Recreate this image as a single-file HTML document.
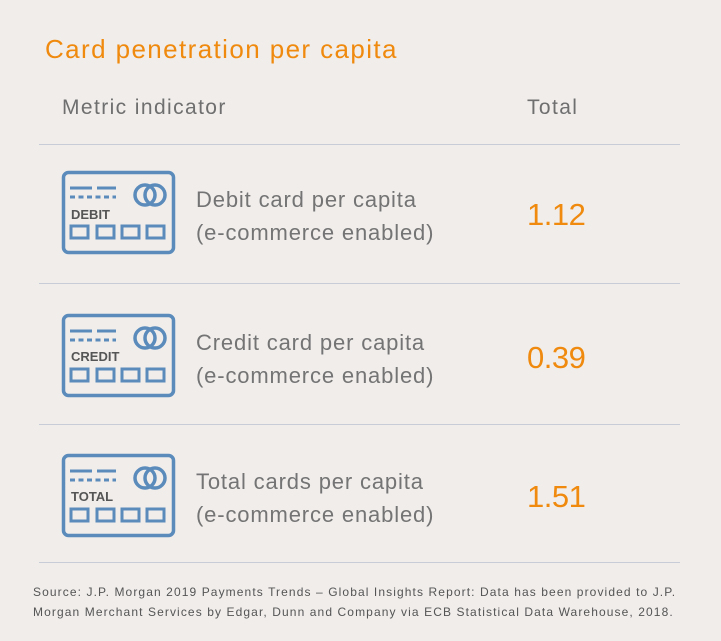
<!DOCTYPE html><html><head><style>
body{margin:0;background:#f0edeb;width:721px;height:641px;position:relative;overflow:hidden;font-family:"Liberation Sans",sans-serif}
.a{position:absolute;white-space:nowrap}
.t{color:#ef8a0e;font-size:26px;left:45px;top:34px;letter-spacing:1.4px}
.h{color:#6f6f6f;font-size:21px;top:96px;letter-spacing:1.4px}
.l{position:absolute;left:39px;width:641px;height:1px;background:#c7ccd6}
.d{color:#747474;font-size:22px;left:196px;line-height:33px;letter-spacing:0.85px}
.v{color:#ef8a0e;font-size:31px;left:527px;letter-spacing:-0.5px}
.f{color:#555;font-size:12px;left:33px;line-height:20px;top:582px;letter-spacing:1.1px}
</style></head><body>
<div class="a t">Card penetration per capita</div>
<div class="a h" style="left:62px">Metric indicator</div>
<div class="a h" style="left:527px">Total</div>
<div class="l" style="top:144px"></div><div class="l" style="top:283px"></div><div class="l" style="top:424px"></div><div class="l" style="top:562px"></div>
<svg width="721" height="641" style="position:absolute;left:0;top:0">
<defs><g id="c" fill="none" stroke="#5a8bbb" stroke-width="3.5">
<rect x="63.5" y="1.5" width="110" height="80" rx="5"/>
<path d="M70 17H92M97 17H116" stroke-width="3"/>
<path d="M70 26H116" stroke-width="3" stroke-dasharray="5 3.5"/>
<circle cx="145" cy="24" r="10"/><circle cx="155" cy="24" r="10"/>
<rect x="71" y="55" width="17" height="12" stroke-width="3"/><rect x="97" y="55" width="17" height="12" stroke-width="3"/><rect x="122" y="55" width="17" height="12" stroke-width="3"/><rect x="147" y="55" width="17" height="12" stroke-width="3"/>
</g></defs>
<use href="#c" y="171"/><use href="#c" y="314"/><use href="#c" y="454"/>
<g font-family="Liberation Sans,sans-serif" font-weight="bold" font-size="13" fill="#555"><text x="71" y="219">DEBIT</text><text x="71" y="361">CREDIT</text><text x="71" y="501">TOTAL</text></g>
</svg>
<div class="a d" style="top:183px">Debit card per capita<br>(e-commerce enabled)</div>
<div class="a v" style="top:197px">1.12</div>
<div class="a d" style="top:326px">Credit card per capita<br>(e-commerce enabled)</div>
<div class="a v" style="top:340px">0.39</div>
<div class="a d" style="top:465px">Total cards per capita<br>(e-commerce enabled)</div>
<div class="a v" style="top:479px">1.51</div>
<div class="a f">Source: J.P. Morgan 2019 Payments Trends – Global Insights Report: Data has been provided to J.P.<br>Morgan Merchant Services by Edgar, Dunn and Company via ECB Statistical Data Warehouse, 2018.</div>
</body></html>
